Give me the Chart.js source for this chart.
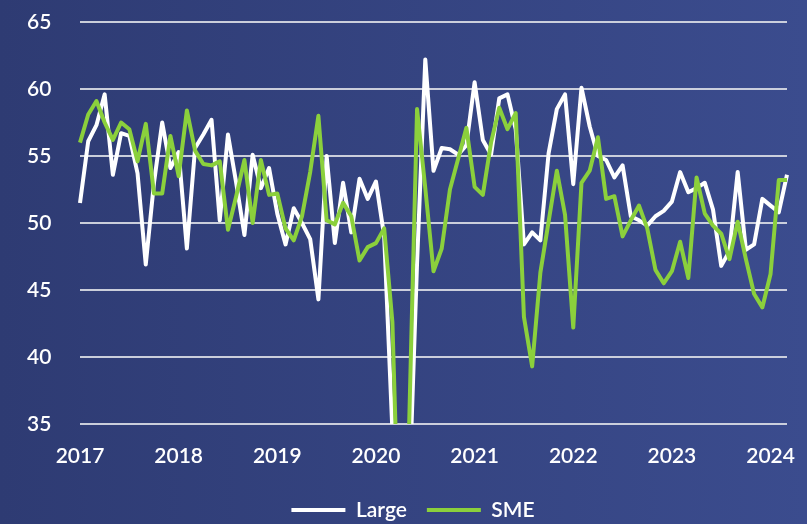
<!DOCTYPE html>
<html>
<head>
<meta charset="utf-8">
<script src="https://cdn.jsdelivr.net/npm/chart.js@4"></script>
<style>
  html, body { margin: 0; padding: 0; }
  body {
    width: 807px; height: 524px; overflow: hidden;
    background: linear-gradient(to right, #2e3b73, #3b4c8e);
  }
  #wrap { position: relative; width: 807px; height: 524px; }
</style>
</head>
<body>
<div id="wrap"><canvas id="chart"></canvas></div>
<script>
// tick labels (one per January)
const years = ['2017', '2018', '2019', '2020', '2021', '2022', '2023', '2024'];

// monthly categories, Jan 2017 - Mar 2024
const months = [];
years.forEach(y => {
    for (let m = 1; m <= 12; m++) {
        if (y === '2024' && m > 3) break;
        months.push(y + '-' + String(m).padStart(2, '0'));
    }
});

// (values under 35 are off the chart)
const large = [
    51.5, 56.1, 57.3, 59.6, 53.6, 56.7, 56.5, 53.7, 46.9, 53.0, 57.5, 54.1,
    55.3, 48.1, 55.6, 56.6, 57.7, 50.2, 56.6, 53.0, 49.1, 55.1, 52.6, 54.1,
    50.7, 48.4, 51.1, 50.0, 48.8, 44.3, 55.0, 48.5, 53.0, 49.3, 53.3, 51.8,
    53.1, 49.0, 34.5, 20.0, 29.0, 47.0, 62.2, 53.9, 55.6, 55.5, 55.1, 55.8,
    60.5, 56.2, 55.1, 59.3, 59.6, 57.0, 48.4, 49.3, 48.7, 55.2, 58.5, 59.6,
    52.9, 60.1, 57.2, 55.0, 54.7, 53.4, 54.3, 50.5, 50.2, 49.8, 50.5, 50.9,
    51.6, 53.8, 52.3, 52.6, 53.0, 51.0, 46.8, 47.9, 53.8, 48.0, 48.4, 51.8,
    51.3, 50.8, 53.6
];
const sme = [
    56.0, 58.1, 59.1, 57.5, 56.2, 57.5, 57.0, 54.6, 57.4, 52.2, 52.2, 56.5,
    53.5, 58.4, 55.4, 54.4, 54.3, 54.6, 49.5, 52.0, 54.7, 50.0, 54.7, 52.1,
    52.2, 49.6, 48.7, 50.5, 53.8, 58.0, 50.2, 49.9, 51.5, 50.5, 47.2, 48.2,
    48.5, 49.6, 42.6, 22.0, 34.0, 58.5, 52.6, 46.4, 48.1, 52.5, 54.8, 57.1,
    52.7, 52.1, 56.0, 58.6, 57.0, 58.2, 43.0, 39.3, 46.3, 50.1, 53.9, 50.6,
    42.2, 53.0, 53.9, 56.4, 51.8, 52.0, 49.0, 50.2, 51.3, 49.6, 46.5, 45.5,
    46.4, 48.6, 45.9, 53.4, 50.7, 49.8, 49.2, 47.3, 50.1, 47.3, 44.7, 43.7,
    46.2, 53.2, 53.2
];

const FONT = { family: 'Lato, "Open Sans", sans-serif', size: 21, weight: '600' };

// pull the legend down closer to the bottom edge
const legendLower = {
    id: 'legendLower',
    beforeInit(chart) {
        const fit = chart.legend.fit;
        chart.legend.fit = function () {
            fit.call(this);
            this.height -= 6.5;
        };
    }
};

new Chart(document.getElementById('chart'), {
    type: 'line',
    data: {
        labels: months,
        datasets: [
            {
                label: 'Large',
                data: large,
                borderColor: '#ffffff',
                backgroundColor: '#ffffff',
                borderWidth: 4,
                pointRadius: 0,
                tension: 0,
                borderJoinStyle: 'round',
                order: 1
            },
            {
                label: 'SME',
                data: sme,
                borderColor: '#8bd03c',
                backgroundColor: '#8bd03c',
                borderWidth: 4,
                pointRadius: 0,
                tension: 0,
                borderJoinStyle: 'round',
                order: 0
            }
        ]
    },
    options: {
        responsive: true,
        maintainAspectRatio: false,
        animation: false,
        layout: { padding: { left: 27, right: 8, top: 22, bottom: 0 } },
        plugins: {
            tooltip: { enabled: false },
            legend: {
                position: 'bottom',
                labels: {
                    color: '#ffffff',
                    font: FONT,
                    usePointStyle: true,
                    pointStyle: 'line',
                    pointStyleWidth: 54,
                    padding: 20,
                    sort: (a, b) => a.datasetIndex - b.datasetIndex
                }
            }
        },
        scales: {
            x: {
                grid: { display: false, drawTicks: false },
                border: { display: false },
                ticks: {
                    color: '#ffffff',
                    font: FONT,
                    autoSkip: false,
                    maxRotation: 0,
                    padding: 20,
                    callback: (v, i) => months[i].endsWith('-01') ? months[i].slice(0, 4) : ''
                },
                afterFit: s => { s.height = 55.5; }
            },
            y: {
                min: 35,
                max: 65,
                grid: { color: 'rgba(220,222,230,0.9)', lineWidth: 2, drawTicks: false },
                border: { display: false },
                ticks: { stepSize: 5, color: '#ffffff', font: FONT, padding: 0, crossAlign: 'far' },
                afterFit: s => { s.width = 53; }
            }
        }
    },
    plugins: [legendLower]
});
</script>
</body>
</html>
